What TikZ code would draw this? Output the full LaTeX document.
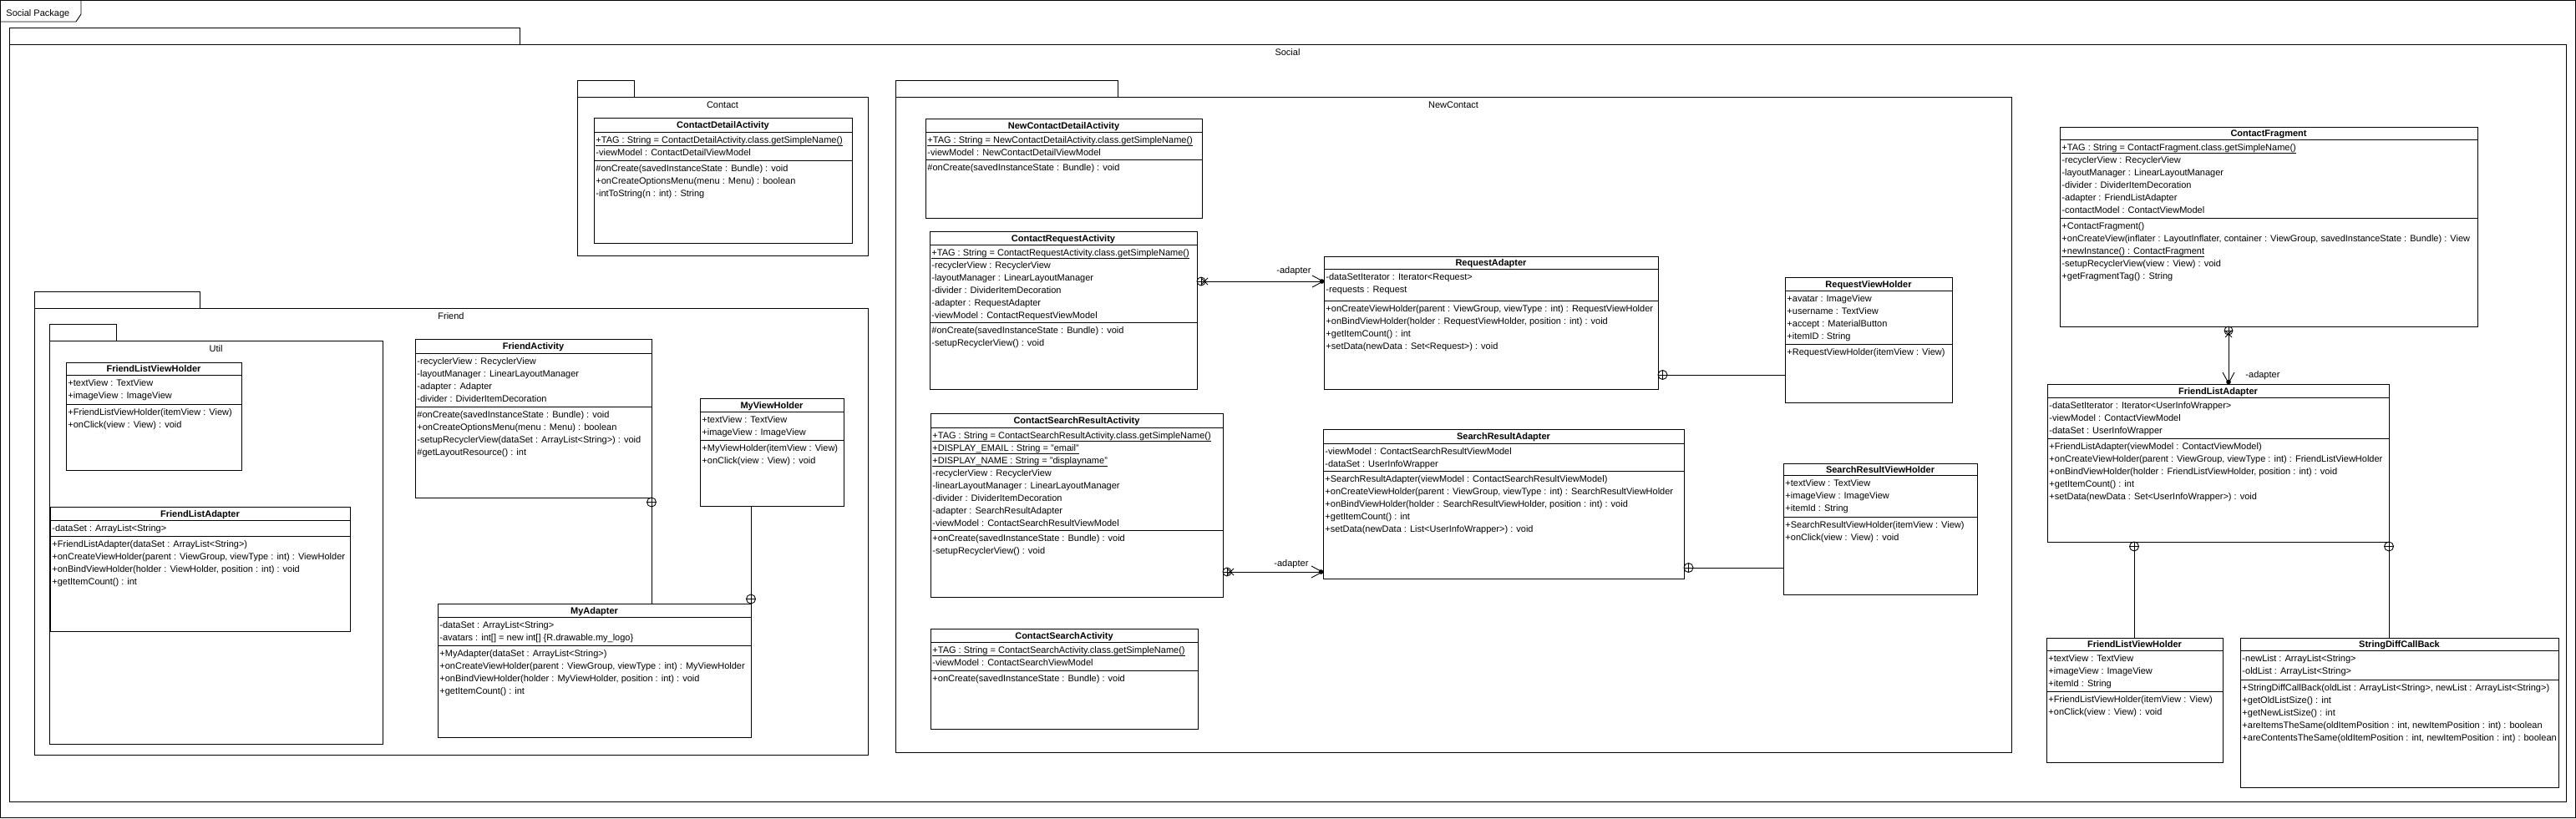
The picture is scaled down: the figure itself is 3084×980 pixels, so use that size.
\documentclass[tikz,border=0pt]{standalone}
\usepackage{fontspec}
\setmainfont{Liberation Sans}
\usetikzlibrary{decorations.markings,positioning}

% class box: name, x1, y1, x2, y2, header line, divider line, title
\newcommand{\umlbox}[8]{%
  \node[classbox, minimum width={#4-#2}, minimum height={#5-#3}, anchor=north west] (#1) at (#2,#3) {};
  \node[titletext] (#1-t) at ({(#2+#4)/2},{(#3+#6)/2+4}) {#8};
  \draw (#2,#6) -- (#4,#6);
  \draw (#2,#7) -- (#4,#7);
}
% rows of a compartment: prefix, x1, line above, list
\newcommand{\umlrows}[4]{%
  \foreach \row [count=\k from 0] in {#4} {
    \node[rowtext] (#1\k) at (#2+2,#3+13+15*\k) {\row};
  }
}
% package: label name, x1, tab top, tab right, body top, x2, y2, label
\newcommand{\umlpkg}[8]{%
  \draw (#2,#3) rectangle (#4,#5);
  \draw (#2,#5) rectangle (#6,#7);
  \node[pkgtext] (#1) at ({(#2+#6)/2},#5+13) {#8};
}

\begin{document}
\begin{tikzpicture}[x=1pt, y=-1pt, line width=0.9pt,
  classbox/.style={draw, inner sep=0pt, outer sep=0pt},
  titletext/.style={font=\fontsize{11}{13}\selectfont\bfseries, inner sep=0pt, anchor=base},
  rowtext/.style={font=\fontsize{11}{13}\selectfont, inner sep=0pt, anchor=base west},
  pkgtext/.style={font=\fontsize{11}{13}\selectfont, inner sep=0pt, anchor=base},
  nest/.style={postaction={decorate}, decoration={markings,
    mark=at position 0 with {\draw (5.5pt,0pt) circle (5.5pt); \draw (5.5pt,-5.5pt) -- (5.5pt,5.5pt);}}},
  assoc/.style={postaction={decorate}, decoration={markings,
    mark=at position 0 with {\draw (5pt,0pt) circle (5pt); \draw (5pt,-5pt) -- (5pt,5pt);
      \draw (5pt,-4pt) -- (13pt,4pt) (5pt,4pt) -- (13pt,-4pt);},
    mark=at position 1 with {\draw (-14pt,-7pt) -- (-1pt,0pt) -- (-14pt,7pt); \fill (-2.5pt,0pt) circle (2.8pt);}}}]
\useasboundingbox (0,0) rectangle (3084,980);

% frame
\draw (0.5,0.5) rectangle (3083.5,979.5);
\draw (0.5,26) -- (91,26) -- (97,17) -- (97,0.5);
\node[rowtext] (frameLbl) at (7,19) {Social Package};

% packages
\umlpkg{socialLbl}{11}{33}{622}{53}{3072}{960}{Social}
\umlpkg{contactLbl}{691}{96}{759}{116}{1039}{306}{Contact}
\umlpkg{newContactLbl}{1072}{96}{1338}{116}{2408}{901}{NewContact}
\umlpkg{friendLbl}{41}{349}{239}{369}{1039}{904}{Friend}
\umlpkg{utilLbl}{59}{388}{139}{408}{458}{891}{Util}

% Contact
\umlbox{cdAct}{711}{141}{1020}{291}{158}{192}{ContactDetailActivity}
\umlrows{cdAct-a}{711}{158}{\underline{+TAG : String = ContactDetailActivity.class.getSimpleName()}, -viewModel : ContactDetailViewModel}
\umlrows{cdAct-m}{711}{192}{\#onCreate(savedInstanceState : Bundle) : void, +onCreateOptionsMenu(menu : Menu) : boolean, -intToString(n : int) : String}

% NewContact
\umlbox{ncdAct}{1108}{142}{1439}{261}{158}{191}{NewContactDetailActivity}
\umlrows{ncdAct-a}{1108}{158}{\underline{+TAG : String = NewContactDetailActivity.class.getSimpleName()}, -viewModel : NewContactDetailViewModel}
\umlrows{ncdAct-m}{1108}{191}{\#onCreate(savedInstanceState : Bundle) : void}

\umlbox{crAct}{1113}{277}{1433}{466}{293}{386}{ContactRequestActivity}
\umlrows{crAct-a}{1113}{293}{\underline{+TAG : String = ContactRequestActivity.class.getSimpleName()}, -recyclerView : RecyclerView, -layoutManager : LinearLayoutManager, -divider : DividerItemDecoration, -adapter : RequestAdapter, -viewModel : ContactRequestViewModel}
\umlrows{crAct-m}{1113}{386}{\#onCreate(savedInstanceState : Bundle) : void, -setupRecyclerView() : void}

\umlbox{reqAd}{1585}{307}{1985}{466}{322}{360}{RequestAdapter}
\umlrows{reqAd-a}{1585}{322}{-dataSetIterator : Iterator<Request>, -requests : Request}
\umlrows{reqAd-m}{1585}{360}{{+onCreateViewHolder(parent : ViewGroup, viewType : int) : RequestViewHolder}, {+onBindViewHolder(holder : RequestViewHolder, position : int) : void}, +getItemCount() : int, +setData(newData : Set<Request>) : void}

\umlbox{reqVH}{2137}{332}{2337}{482}{348}{412}{RequestViewHolder}
\umlrows{reqVH-a}{2137}{348}{+avatar : ImageView, +username : TextView, +accept : MaterialButton, +itemID : String}
\umlrows{reqVH-m}{2137}{412}{+RequestViewHolder(itemView : View)}

\umlbox{csrAct}{1114}{495}{1464}{715}{512}{635}{ContactSearchResultActivity}
\umlrows{csrAct-a}{1114}{512}{\underline{+TAG : String = ContactSearchResultActivity.class.getSimpleName()}, \underline{+DISPLAY\_EMAIL : String = "email"}, \underline{+DISPLAY\_NAME : String = "displayname"}, -recyclerView : RecyclerView, -linearLayoutManager : LinearLayoutManager, -divider : DividerItemDecoration, -adapter : SearchResultAdapter, -viewModel : ContactSearchResultViewModel}
\umlrows{csrAct-m}{1114}{635}{+onCreate(savedInstanceState : Bundle) : void, -setupRecyclerView() : void}

\umlbox{srAd}{1584}{514}{2016}{693}{531}{564}{SearchResultAdapter}
\umlrows{srAd-a}{1584}{531}{-viewModel : ContactSearchResultViewModel, -dataSet : UserInfoWrapper}
\umlrows{srAd-m}{1584}{564}{+SearchResultAdapter(viewModel : ContactSearchResultViewModel), {+onCreateViewHolder(parent : ViewGroup, viewType : int) : SearchResultViewHolder}, {+onBindViewHolder(holder : SearchResultViewHolder, position : int) : void}, +getItemCount() : int, +setData(newData : List<UserInfoWrapper>) : void}

\umlbox{srVH}{2135}{555}{2367}{712}{569}{619}{SearchResultViewHolder}
\umlrows{srVH-a}{2135}{569}{+textView : TextView, +imageView : ImageView, +itemId : String}
\umlrows{srVH-m}{2135}{619}{+SearchResultViewHolder(itemView : View), +onClick(view : View) : void}

\umlbox{csAct}{1114}{753}{1434}{873}{769}{803}{ContactSearchActivity}
\umlrows{csAct-a}{1114}{769}{\underline{+TAG : String = ContactSearchActivity.class.getSimpleName()}, -viewModel : ContactSearchViewModel}
\umlrows{csAct-m}{1114}{803}{+onCreate(savedInstanceState : Bundle) : void}

% right side
\umlbox{cFrag}{2466}{152}{2966}{391}{167}{261}{ContactFragment}
\umlrows{cFrag-a}{2466}{167}{\underline{+TAG : String = ContactFragment.class.getSimpleName()}, -recyclerView : RecyclerView, -layoutManager : LinearLayoutManager, -divider : DividerItemDecoration, -adapter : FriendListAdapter, -contactModel : ContactViewModel}
\umlrows{cFrag-m}{2466}{261}{+ContactFragment(), {+onCreateView(inflater : LayoutInflater, container : ViewGroup, savedInstanceState : Bundle) : View}, \underline{+newInstance() : ContactFragment}, -setupRecyclerView(view : View) : void, +getFragmentTag() : String}

\umlbox{flAd}{2451}{460}{2860}{649}{476}{525}{FriendListAdapter}
\umlrows{flAd-a}{2451}{476}{-dataSetIterator : Iterator<UserInfoWrapper>, -viewModel : ContactViewModel, -dataSet : UserInfoWrapper}
\umlrows{flAd-m}{2451}{525}{+FriendListAdapter(viewModel : ContactViewModel), {+onCreateViewHolder(parent : ViewGroup, viewType : int) : FriendListViewHolder}, {+onBindViewHolder(holder : FriendListViewHolder, position : int) : void}, +getItemCount() : int, +setData(newData : Set<UserInfoWrapper>) : void}

\umlbox{flVH}{2450}{764}{2661}{913}{779}{828}{FriendListViewHolder}
\umlrows{flVH-a}{2450}{779}{+textView : TextView, +imageView : ImageView, +itemId : String}
\umlrows{flVH-m}{2450}{828}{+FriendListViewHolder(itemView : View), +onClick(view : View) : void}

\umlbox{sdcb}{2682}{764}{3063}{943}{779}{814}{StringDiffCallBack}
\umlrows{sdcb-a}{2682}{779}{-newList : ArrayList<String>, -oldList : ArrayList<String>}
\umlrows{sdcb-m}{2682}{814}{{+StringDiffCallBack(oldList : ArrayList<String>, newList : ArrayList<String>)}, +getOldListSize() : int, +getNewListSize() : int, {+areItemsTheSame(oldItemPosition : int, newItemPosition : int) : boolean}, {+areContentsTheSame(oldItemPosition : int, newItemPosition : int) : boolean}}

% Friend / Util
\umlbox{uflVH}{79}{434}{289}{563}{449}{484}{FriendListViewHolder}
\umlrows{uflVH-a}{79}{449}{+textView : TextView, +imageView : ImageView}
\umlrows{uflVH-m}{79}{484}{+FriendListViewHolder(itemView : View), +onClick(view : View) : void}

\umlbox{uflAd}{60}{607}{419}{756}{623}{642}{FriendListAdapter}
\umlrows{uflAd-a}{60}{623}{-dataSet : ArrayList<String>}
\umlrows{uflAd-m}{60}{642}{+FriendListAdapter(dataSet : ArrayList<String>), {+onCreateViewHolder(parent : ViewGroup, viewType : int) : ViewHolder}, {+onBindViewHolder(holder : ViewHolder, position : int) : void}, +getItemCount() : int}

\umlbox{frAct}{497}{406}{780}{596}{423}{487}{FriendActivity}
\umlrows{frAct-a}{497}{423}{-recyclerView : RecyclerView, -layoutManager : LinearLayoutManager, -adapter : Adapter, -divider : DividerItemDecoration}
\umlrows{frAct-m}{497}{487}{\#onCreate(savedInstanceState : Bundle) : void, +onCreateOptionsMenu(menu : Menu) : boolean, -setupRecyclerView(dataSet : ArrayList<String>) : void, \#getLayoutResource() : int}

\umlbox{myVH}{838}{477}{1010}{606}{493}{527}{MyViewHolder}
\umlrows{myVH-a}{838}{493}{+textView : TextView, +imageView : ImageView}
\umlrows{myVH-m}{838}{527}{+MyViewHolder(itemView : View), +onClick(view : View) : void}

\umlbox{myAd}{524}{723}{899}{883}{739}{773}{MyAdapter}
\umlrows{myAd-a}{524}{739}{-dataSet : ArrayList<String>, -avatars : int[] = new int[] \{R.drawable.my\_logo\}}
\umlrows{myAd-m}{524}{773}{+MyAdapter(dataSet : ArrayList<String>), {+onCreateViewHolder(parent : ViewGroup, viewType : int) : MyViewHolder}, {+onBindViewHolder(holder : MyViewHolder, position : int) : void}, +getItemCount() : int}

% connectors
\draw[nest] (frAct.south east) -- (myAd.north -| frAct.south east);
\draw[nest] (myAd.north east) -- (myVH.south -| myAd.north east);
\draw[assoc] (crAct.east |- 0,337) -- (reqAd.west |- 0,337);
\node[rowtext] (adLblReq) at (1528,327) {-adapter};
\draw[nest] (reqAd.east |- 0,449) -- (reqVH.west |- 0,449);
\draw[assoc] (csrAct.east |- 0,685) -- (srAd.west |- 0,685);
\node[rowtext] (adLblSr) at (1525,678) {-adapter};
\draw[nest] (srAd.east |- 0,680) -- (srVH.west |- 0,680);
\draw[assoc] (cFrag.south -| 2668,0) -- (flAd.north -| 2668,0);
\node[rowtext] (adLblFl) at (2688,452) {-adapter};
\draw[nest] (flAd.south -| 2555,0) -- (flVH.north -| 2555,0);
\draw[nest] (flAd.south east) -- (sdcb.north -| flAd.south east);
\end{tikzpicture}
\end{document}
